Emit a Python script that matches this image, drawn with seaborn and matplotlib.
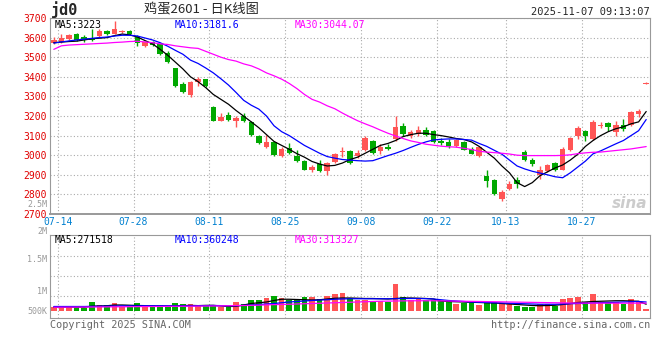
import numpy as np
import pandas as pd
import matplotlib
matplotlib.use("Agg")
import matplotlib.pyplot as plt
import seaborn as sns

# trading days 2025-07-14 .. 2025-11-07, National Day break removed
days = pd.bdate_range("2025-07-14", "2025-11-07")
days = days[(days < "2025-10-01") | (days > "2025-10-08")]
day_labels = days.strftime("%m-%d")

axis_dates = ["07-14", "07-28", "08-11", "08-25", "09-08", "09-22", "10-13", "10-27"]
price_ticks = [3700, 3600, 3500, 3400, 3300, 3200, 3100, 3000, 2900, 2800, 2700]
vol_labels = ["2.5M", "2M", "1.5M", "1M", "500K"]

open_ = [3572, 3577, 3594, 3616, 3603, 3600, 3608, 3636, 3619, 3630,
         3636, 3608, 3555, 3577, 3569, 3523, 3447, 3362, 3306, 3371,
         3391, 3247, 3176, 3207, 3173, 3198, 3171, 3100, 3044, 3069,
         2995, 3038, 2998, 2970, 2922, 2956, 2917, 2964, 3018, 3019,
         2998, 3024, 3075, 3019, 3044, 3083, 3151, 3097, 3109, 3130,
         3125, 3075, 3066, 3049, 3066, 3033, 2998, 2892, 2872, 2774,
         2826, 2872, 3015, 2977, 2900, 2919, 2961, 2926, 3027, 3100,
         3122, 3083, 3150, 3162, 3117, 3156, 3156, 3210, 3364]
high = [3603, 3619, 3618, 3625, 3612, 3642, 3642, 3640, 3687, 3640,
        3640, 3612, 3585, 3582, 3575, 3530, 3447, 3375, 3380, 3400,
        3391, 3250, 3213, 3218, 3202, 3213, 3176, 3105, 3105, 3075,
        3044, 3064, 3024, 2977, 2952, 2977, 2965, 3012, 3041, 3024,
        3024, 3098, 3080, 3058, 3058, 3198, 3162, 3130, 3147, 3145,
        3128, 3088, 3083, 3083, 3071, 3041, 3044, 2927, 2877, 2824,
        2868, 2888, 3027, 2987, 2943, 2953, 2965, 3041, 3091, 3151,
        3129, 3180, 3171, 3168, 3173, 3185, 3227, 3235, 3372]
low = [3565, 3574, 3590, 3582, 3580, 3583, 3604, 3612, 3616, 3622,
       3612, 3557, 3550, 3555, 3510, 3470, 3350, 3318, 3296, 3354,
       3350, 3172, 3172, 3176, 3142, 3168, 3100, 3056, 3036, 2998,
       2990, 3008, 2964, 2922, 2915, 2915, 2900, 2960, 2990, 2953,
       2987, 3019, 3005, 3007, 3024, 3075, 3100, 3088, 3100, 3096,
       3061, 3050, 3036, 3044, 3024, 3007, 2993, 2838, 2795, 2767,
       2821, 2834, 2968, 2943, 2880, 2915, 2917, 2924, 3020, 3083,
       3075, 3080, 3137, 3125, 3100, 3125, 3151, 3195, 3362]
close = [3589, 3599, 3613, 3586, 3588, 3590, 3636, 3616, 3642, 3633,
         3616, 3575, 3579, 3562, 3515, 3478, 3354, 3325, 3374, 3390,
         3354, 3176, 3196, 3181, 3190, 3173, 3105, 3061, 3069, 3003,
         3033, 3013, 2970, 2927, 2939, 2919, 2960, 3007, 3022, 2960,
         3010, 3086, 3012, 3044, 3032, 3142, 3109, 3117, 3130, 3105,
         3066, 3061, 3049, 3078, 3029, 3007, 3041, 2868, 2800, 2812,
         2855, 2851, 2973, 2953, 2926, 2951, 2922, 3033, 3086, 3137,
         3100, 3168, 3152, 3142, 3156, 3134, 3218, 3227, 3368]

ma5 = [3574, 3577, 3580, 3582, 3588, 3594, 3597, 3600, 3610, 3618,
       3614, 3603, 3585, 3568, 3540, 3510, 3475, 3440, 3400, 3375,
       3345, 3310, 3285, 3260, 3228, 3199, 3170, 3140, 3105, 3070,
       3050, 3030, 3008, 2990, 2968, 2955, 2945, 2948, 2960, 2978,
       2990, 3010, 3030, 3050, 3060, 3075, 3095, 3105, 3112, 3112,
       3105, 3100, 3093, 3085, 3080, 3068, 3045, 3015, 2985, 2945,
       2910, 2860, 2840, 2860, 2895, 2915, 2935, 2950, 2975, 3005,
       3045, 3075, 3100, 3120, 3135, 3145, 3160, 3170, 3223]
ma10 = [3572, 3578, 3583, 3588, 3592, 3596, 3600, 3603, 3608, 3612,
        3612, 3608, 3598, 3588, 3574, 3556, 3535, 3515, 3485, 3468,
        3445, 3420, 3390, 3358, 3320, 3280, 3255, 3235, 3200, 3150,
        3120, 3100, 3075, 3050, 3030, 3010, 2993, 2985, 2978, 2975,
        2972, 2970, 2972, 2985, 2998, 3010, 3024, 3040, 3055, 3068,
        3078, 3081, 3083, 3083, 3080, 3077, 3060, 3045, 3025, 3005,
        2975, 2945, 2930, 2918, 2909, 2900, 2890, 2885, 2910, 2940,
        2970, 3007, 3022, 3040, 3058, 3075, 3100, 3125, 3182]
ma30 = [3540, 3558, 3562, 3564, 3566, 3568, 3570, 3572, 3575, 3577,
        3580, 3581, 3578, 3574, 3568, 3565, 3558, 3553, 3548, 3545,
        3530, 3515, 3500, 3488, 3480, 3466, 3456, 3440, 3420, 3405,
        3388, 3366, 3340, 3310, 3285, 3271, 3252, 3237, 3215, 3195,
        3176, 3160, 3145, 3128, 3112, 3098, 3085, 3073, 3065, 3056,
        3051, 3046, 3043, 3041, 3035, 3029, 3020, 3016, 3013, 3010,
        3006, 3000, 2998, 2998, 2998, 2998, 2998, 2999, 3002, 3008,
        3012, 3015, 3016, 3020, 3024, 3028, 3032, 3038, 3044]

volume = [147, 147, 147, 200, 107, 360, 240, 240, 320, 173,
          173, 320, 147, 240, 227, 173, 320, 280, 280, 200,
          227, 227, 147, 147, 360, 280, 440, 440, 520, 613,
          520, 440, 440, 560, 560, 480, 613, 680, 733, 520,
          440, 440, 347, 400, 373, 1080, 547, 440, 480, 440,
          440, 400, 347, 280, 320, 320, 240, 360, 360, 280,
          320, 200, 160, 160, 280, 280, 200, 480, 520, 560,
          360, 680, 360, 320, 360, 280, 480, 360, 80]
vol_ma5 = [150, 150, 150, 160, 150, 195, 200, 210, 240, 240,
           230, 220, 215, 210, 200, 200, 210, 215, 225, 215,
           225, 227, 200, 180, 185, 240, 300, 330, 360, 420,
           470, 470, 460, 450, 440, 450, 480, 510, 520, 520,
           510, 500, 500, 490, 480, 500, 520, 520, 510, 500,
           480, 400, 380, 370, 360, 350, 340, 330, 320, 300,
           280, 260, 240, 220, 210, 220, 230, 260, 300, 340,
           360, 380, 390, 400, 410, 410, 400, 390, 272]
vol_ma10 = [180, 180, 180, 180, 180, 185, 190, 195, 200, 205,
            205, 205, 210, 210, 210, 210, 205, 205, 205, 210,
            215, 220, 215, 210, 215, 225, 240, 260, 280, 300,
            330, 360, 380, 400, 420, 440, 450, 470, 480, 490,
            490, 490, 490, 490, 490, 490, 500, 500, 500, 495,
            480, 450, 420, 400, 380, 360, 350, 340, 330, 320,
            310, 300, 290, 280, 270, 270, 270, 280, 290, 300,
            310, 320, 330, 340, 350, 360, 370, 380, 360]
vol_ma30 = [150, 152, 154, 156, 158, 160, 162, 165, 168, 170,
            172, 175, 178, 180, 182, 185, 188, 190, 192, 195,
            198, 200, 205, 210, 215, 220, 225, 235, 245, 255,
            262, 270, 280, 290, 300, 310, 320, 330, 340, 350,
            360, 370, 380, 390, 395, 400, 405, 408, 410, 410,
            410, 405, 400, 395, 390, 385, 380, 375, 370, 365,
            360, 355, 350, 345, 340, 335, 330, 325, 320, 318,
            316, 315, 314, 313, 313, 313, 313, 314, 313]

RED = "#ff5555"
GREEN = "#00a800"
GRID = "#aaaaaa"
FRAME = "#999999"

sns.set_style("white")
plt.rcParams["font.family"] = ["DejaVu Sans Mono", "Noto Sans CJK SC"]

df = pd.DataFrame({"day": day_labels, "open": open_, "high": high, "low": low,
                   "close": close, "vol": np.array(volume) * 1000})
df["x"] = np.arange(len(df))
df["up"] = df["close"] >= df["open"]
colors = np.where(df["up"], RED, GREEN)
tick_x = [df.index[df["day"] == d][0] + 0.5 for d in axis_dates]

fig = plt.figure(figsize=(6.6, 3.6), dpi=100)
W, H = 660, 360
ax = fig.add_axes([50 / W, 1 - 214 / H, 600 / W, 196 / H])
axv = fig.add_axes([50 / W, 1 - 318 / H, 600 / W, 83 / H])

# candles
body_lo = np.minimum(df["open"], df["close"])
body_h = np.maximum(np.abs(df["close"] - df["open"]), 4)
ax.vlines(df["x"], df["low"], df["high"], colors=colors, lw=1, zorder=3)
ax.bar(df["x"], body_h, bottom=body_lo, width=0.72, color=colors, linewidth=0, zorder=4)

for vals, c in [(ma5, "black"), (ma10, "#0000ff"), (ma30, "#ff00ff")]:
    sns.lineplot(x=df["x"], y=vals, color=c, lw=0.9, ax=ax, zorder=5)

ax.set_xlim(-0.5, 78.5)
ax.set_ylim(2700, 3700)
ax.set_yticks(price_ticks)
ax.set_yticklabels([str(p) for p in price_ticks], color="#e00000", fontsize=7)
ax.set_xticks(tick_x)
ax.set_xticklabels(axis_dates, color="#0080d0", fontsize=7)
ax.tick_params(length=0, pad=2)
ax.set_xlabel("")
ax.set_ylabel("")
ax.grid(True, ls=(0, (1, 2)), color=GRID, lw=0.8)
for s in ["left", "right", "top"]:
    ax.spines[s].set_color(FRAME)
ax.spines["bottom"].set_color(FRAME)
ax.spines["bottom"].set_linestyle((0, (1, 1)))
ax.spines["bottom"].set_linewidth(1.4)

# volume
sns.barplot(x=df["x"], y=df["vol"], hue=df["up"], palette={True: RED, False: GREEN},
            dodge=False, native_scale=True, width=0.75, saturation=1, linewidth=0,
            errorbar=None, legend=False, ax=axv)
for vals, c in [(vol_ma5, "black"), (vol_ma10, "#0000ff"), (vol_ma30, "#ff00ff")]:
    sns.lineplot(x=df["x"], y=np.array(vals) * 1000, color=c, lw=0.9, ax=axv)

axv.set_xlim(-0.5, 78.5)
axv.set_ylim(-280e3, 3040e3)
lo, hi = axv.get_ylim()
axv.set_yticks([lo + (hi - lo) * f for f in (0.27, 0.51, 0.75)])
axv.set_yticklabels([])
axv.set_xticks(tick_x)
axv.set_xticklabels([])
axv.tick_params(length=0)
axv.set_xlabel("")
axv.set_ylabel("")
axv.grid(True, ls=(0, (1, 2)), color=GRID, lw=0.8)
for s in ["left", "right", "bottom"]:
    axv.spines[s].set_color(FRAME)
axv.spines["top"].set_color(FRAME)
axv.spines["top"].set_linestyle((0, (1, 1)))

for lab, ypx in zip(vol_labels, [204.5, 231, 260, 291, 311]):
    fig.text(47 / W, 1 - ypx / H, lab, color=FRAME, fontsize=6, ha="right", va="center")

# header texts
fig.text(51 / W, 1 - 10 / H, "jd0", fontsize=11, fontweight="bold", va="center")
fig.text(201 / W, 1 - 10 / H, "鸡蛋2601 - 日K线图", fontsize=9.5, ha="center", va="center",
         family=["Noto Sans CJK SC", "DejaVu Sans"])
fig.text(650 / W, 1 - 12 / H, "2025-11-07 09:13:07", fontsize=7.5, ha="right", va="center")
fig.text(55 / W, 1 - 25 / H, "MA5:3223", fontsize=7, color="black", va="center")
fig.text(175 / W, 1 - 25 / H, "MA10:3181.6", fontsize=7, color="#0000ff", va="center")
fig.text(295 / W, 1 - 25 / H, "MA30:3044.07", fontsize=7, color="#ff00ff", va="center")
fig.text(55 / W, 1 - 240 / H, "MA5:271518", fontsize=7, color="black", va="center")
fig.text(175 / W, 1 - 240 / H, "MA10:360248", fontsize=7, color="#0000ff", va="center")
fig.text(295 / W, 1 - 240 / H, "MA30:313327", fontsize=7, color="#ff00ff", va="center")
fig.text(50 / W, 1 - 325 / H, "Copyright 2025 SINA.COM", fontsize=7.3, color="#666666", va="center")
fig.text(650 / W, 1 - 325 / H, "http://finance.sina.com.cn", fontsize=7.3, color="#666666",
         ha="right", va="center")
fig.text(647 / W, 1 - 203 / H, "sina", fontsize=11, color="#cccccc", ha="right", va="center",
         fontweight="bold", style="italic", family="DejaVu Sans")

fig.savefig("out.png", dpi=100)
